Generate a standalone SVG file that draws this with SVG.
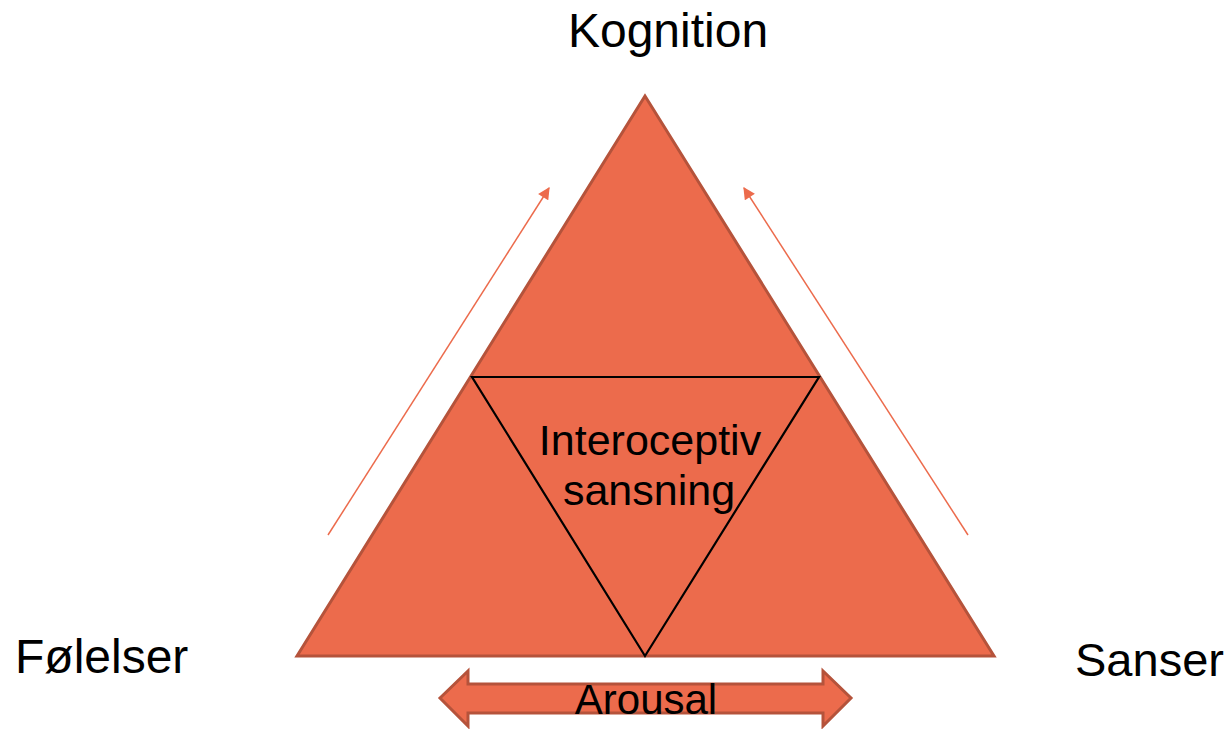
<svg xmlns="http://www.w3.org/2000/svg" width="1232" height="729" viewBox="0 0 1232 729">
<style>
.lbl{font-family:"Liberation Sans",Arial,sans-serif;fill:#000}
.shape{fill:#EC6B4C;stroke:#B5533B;stroke-width:3;stroke-linejoin:miter}
.conn{stroke:#EC6B4C;stroke-width:1.5;fill:none}
</style>
<defs>
<marker id="ah" viewBox="0 0 10 10" refX="9" refY="5" markerWidth="13" markerHeight="12" markerUnits="userSpaceOnUse" orient="auto">
<path d="M0,0 L10,5 L0,10 z" fill="#EC6B4C"/>
</marker>
<clipPath id="arClip"><rect x="440" y="680" width="412" height="34"/></clipPath>
</defs>
<rect width="1232" height="729" fill="#fff"/>
<g id="triangle">
<polygon class="shape" points="645,96 297,656 994,656"/>
</g>
<g id="inner">
<polygon points="472,377 819,377 645,656" fill="none" stroke="#000" stroke-width="2.2" stroke-linejoin="miter"/>
<text class="lbl" x="650" y="455" font-size="43" text-anchor="middle">Interoceptiv</text>
<text class="lbl" x="649" y="505" font-size="43" text-anchor="middle">sansning</text>
</g>
<g id="connectors">
<line class="conn" x1="328" y1="535" x2="549" y2="188" marker-end="url(#ah)"/>
<line class="conn" x1="968" y1="535" x2="744" y2="188" marker-end="url(#ah)"/>
</g>
<g id="arousal">
<polygon class="shape" points="440,698 468,671 468,684 823,684 823,671 851,698 823,726 823,713 468,713 468,726"/>
<text class="lbl" x="646" y="714" font-size="42" text-anchor="middle" clip-path="url(#arClip)">Arousal</text>
</g>
<g id="kognition"><text class="lbl" x="668" y="47" font-size="48" text-anchor="middle">Kognition</text></g>
<g id="folelser"><text class="lbl" x="15" y="673" font-size="48">Følelser</text></g>
<g id="sanser"><text class="lbl" x="1075" y="676" font-size="47">Sanser</text></g>
</svg>
